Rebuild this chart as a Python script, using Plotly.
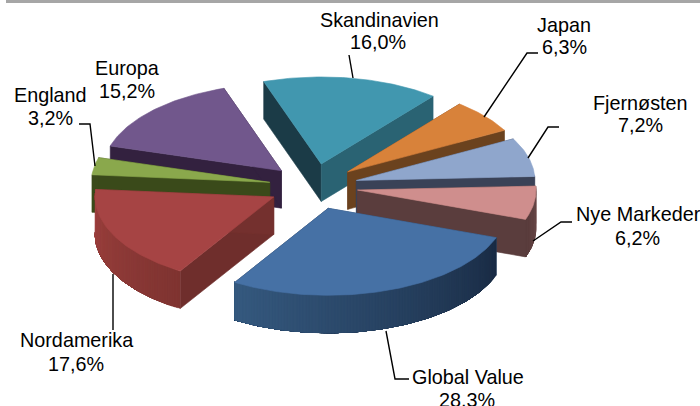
import numpy as np
import plotly.graph_objects as go

# ---- data ----
categories = ["Skandinavien", "Japan", "Fjernøsten", "Nye Markeder",
              "Global Value", "Nordamerika", "England", "Europa"]
values = [16.0, 6.3, 7.2, 6.2, 28.3, 17.6, 3.2, 15.2]

# ---- style / geometry of the projected 3-D pie ----
top_colors = ["#4197af", "#d8823a", "#8fa6cc", "#cf8e8d", "#4671a5", "#a64444", "#8aa84c", "#71578c"]
start_wall = ["#1b3b47", "#6b421e", "#3a4257", "#5a3d3d", "#2b4a6e", "#6f2e2c", "#3a4a1a", "#33213f"]
end_wall = ["#2a6373", "#6b421e", "#3a4257", "#5a3d3d", "#1b2e48", "#74302e", "#3a4a1a", "#33213f"]
outer_from = ["#2a6373", "#6b421e", "#3a4257", "#6e4a4a", "#1a2c45", "#7f3431", "#3a4a1a", "#33213f"]
outer_to = ["#2a6373", "#6b421e", "#3a4257", "#5a3d3d", "#35597f", "#a04240", "#3a4a1a", "#33213f"]
draw_order = [0, 1, 2, 3, 7, 6, 5, 4]
START_DEG, RX, RY, DEPTH = -18.8, 178.5, 87.0, 37.5
CX, CY, EX, EY = 313.5, 186.6, 44.5, 23.0

name_cx = [379, 564, 640, 638, 468, 76, 50, 127]
pct_cx = [378, 564, 640, 637, 467, 76, 50, 127]
name_base = [27, 32, 110, 221, 384, 347, 102, 75]
pct_base = [49, 54, 132, 245, 407, 371, 125, 98]
leaders = [
    ([349, 353], [55, 78]),
    ([538, 527, 484], [53, 53, 117]),
    ([559, 548, 528], [127, 127, 158]),
    ([572, 561, 533], [222, 222, 241]),
    ([409, 395, 386], [379, 379, 331]),
    ([113, 113], [330, 274]),
    ([79, 90, 95], [124, 124, 166]),
]
FONT = "Liberation Sans, Arial, sans-serif"
FSIZE = 19.8


def hex2rgb(h):
    return np.array([int(h[i:i + 2], 16) for i in (1, 3, 5)], float)


def mix(a, b, t):
    c = hex2rgb(a) * (1 - t) + hex2rgb(b) * t
    return "rgb(%d,%d,%d)" % tuple(c.round())


def poly(fig, xs, ys, color, name, lw=0.6):
    fig.add_trace(go.Scatter(
        x=list(xs) + [xs[0]], y=list(ys) + [ys[0]], mode="lines", fill="toself",
        fillcolor=color, line=dict(color=color, width=lw),
        hoverinfo="skip", showlegend=False, name=name))


fig = go.Figure()
edges = START_DEG + np.concatenate([[0], np.cumsum(values)]) * 3.6

for i in draw_order:
    a0, a1 = np.radians(edges[i]), np.radians(edges[i + 1])
    mid = (a0 + a1) / 2
    ax = CX + EX * np.sin(mid)
    ay = CY - EY * np.cos(mid)
    th = np.linspace(a0, a1, max(6, int(np.degrees(a1 - a0))))
    arc_x = ax + RX * np.sin(th)
    arc_y = ay - RY * np.cos(th)
    name = categories[i]

    # radial walls
    poly(fig, [ax, arc_x[0], arc_x[0], ax], [ay, arc_y[0], arc_y[0] + DEPTH, ay + DEPTH], start_wall[i], name)
    poly(fig, [ax, arc_x[-1], arc_x[-1], ax], [ay, arc_y[-1], arc_y[-1] + DEPTH, ay + DEPTH], end_wall[i], name)

    # outer wall: each pass repaints from this angle to the arc's end, so no seams show
    for k in range(len(th) - 1):
        if np.cos(th[k]) > 0.05 and np.cos(th[k + 1]) > 0.05:
            continue
        t = k / max(1, len(th) - 2)
        xs = list(arc_x[k:]) + list(arc_x[k:][::-1])
        ys = list(arc_y[k:]) + list((arc_y[k:] + DEPTH)[::-1])
        poly(fig, xs, ys, mix(outer_from[i], outer_to[i], t), name, lw=0.3)

    # top face
    poly(fig, [ax] + list(arc_x), [ay] + list(arc_y), top_colors[i], name)

for lx, ly in leaders:
    fig.add_trace(go.Scatter(x=lx, y=ly, mode="lines", line=dict(color="#000000", width=1.4),
                             hoverinfo="skip", showlegend=False))

for name, v, ncx, pcx, nb, pb in zip(categories, values, name_cx, pct_cx, name_base, pct_base):
    for text, cx, base in ((name, ncx, nb), (f"{v:.1f}".replace(".", ",") + "%", pcx, pb)):
        fig.add_annotation(x=cx, y=base - 6.8, text=text, showarrow=False, xanchor="center", yanchor="middle",
                           font=dict(family=FONT, size=FSIZE, color="#000000"))

fig.add_shape(type="rect", xref="x", yref="y", x0=6, x1=700, y0=0, y1=3,
              fillcolor="#a6a6a6", line_width=0)

fig.update_layout(
    width=700, height=406, margin=dict(l=0, r=0, t=0, b=0),
    paper_bgcolor="white", plot_bgcolor="white", showlegend=False,
    xaxis=dict(range=[0, 700], visible=False, fixedrange=True),
    yaxis=dict(range=[406, 0], visible=False, fixedrange=True),
)
fig.write_html("out.html", config={"displayModeBar": False},
               post_script="document.body.style.margin='0';document.documentElement.style.overflow='hidden';")
